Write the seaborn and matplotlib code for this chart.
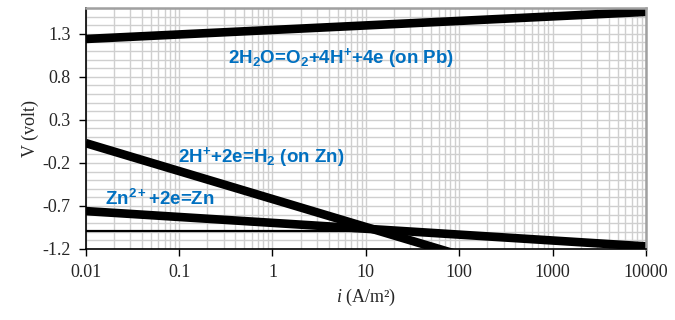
import numpy as np
import pandas as pd
import seaborn as sns
import matplotlib.pyplot as plt
from matplotlib.ticker import LogLocator, MultipleLocator, FixedLocator, NullFormatter

# current density (A/m2) and potential (V) at line ends
i_o2 = [0.01, 10000]
v_o2 = [1.24, 1.555]
i_h2 = [0.01, 100]
v_h2 = [0.03, -1.27]
i_zn = [0.01, 10000]
v_zn = [-0.76, -1.17]
i_eq = [0.01, 11]
v_eq = [-0.99, -0.99]

y_ticks = [-1.2, -0.7, -0.2, 0.3, 0.8, 1.3]
x_ticks = [0.01, 0.1, 1, 10, 100, 1000, 10000]
x_labels = ["0.01", "0.1", "1", "10", "100", "1000", "10000"]

labels = {
    "o2": (0.33, 1.02, r"2H$_{2}$O=O$_{2}$+4H$^{+}$+4e (on Pb)"),
    "h2": (0.098, -0.13, r"2H$^{+}$+2e=H$_{2}$ (on Zn)"),
    "zn": (0.016, -0.62, r"Zn$^{2+}$+2e=Zn"),
}

sns.set_theme(style="whitegrid")
plt.rcParams["font.family"] = ["Liberation Serif", "DejaVu Serif"]
plt.rcParams["mathtext.fontset"] = "custom"
plt.rcParams["mathtext.rm"] = "Liberation Sans:bold"
plt.rcParams["mathtext.it"] = "Liberation Sans:bold"
plt.rcParams["mathtext.bf"] = "Liberation Sans:bold"
plt.rcParams["mathtext.sf"] = "Liberation Serif:italic"

fig = plt.figure(figsize=(6.75, 3.2), dpi=100)
ax = fig.add_axes([0.127, 0.222, 0.83, 0.753])

thick = 6.2
sns.lineplot(data=pd.DataFrame({"i": i_o2, "v": v_o2}), x="i", y="v", ax=ax,
             color="black", lw=thick, estimator=None, solid_capstyle="butt")
sns.lineplot(data=pd.DataFrame({"i": i_h2, "v": v_h2}), x="i", y="v", ax=ax,
             color="black", lw=thick, estimator=None, solid_capstyle="butt")
sns.lineplot(data=pd.DataFrame({"i": i_zn, "v": v_zn}), x="i", y="v", ax=ax,
             color="black", lw=thick, estimator=None, solid_capstyle="butt")
sns.lineplot(data=pd.DataFrame({"i": i_eq, "v": v_eq}), x="i", y="v", ax=ax,
             color="black", lw=1.6, estimator=None, solid_capstyle="butt")

ax.set_xscale("log")
ax.set_xlim(0.01, 10000)
ax.set_ylim(-1.2, 1.6)

ax.xaxis.set_major_locator(FixedLocator(x_ticks))
ax.set_xticklabels(x_labels)
ax.xaxis.set_minor_locator(LogLocator(base=10, subs=np.arange(2, 10)))
ax.xaxis.set_minor_formatter(NullFormatter())
ax.yaxis.set_major_locator(FixedLocator(y_ticks))
ax.set_yticklabels([f"{t:.1f}" for t in y_ticks])
ax.yaxis.set_minor_locator(MultipleLocator(0.1))

ax.grid(which="both", color="#cfcfcf", lw=1.0)
ax.set_axisbelow(True)

ax.tick_params(axis="both", which="major", labelsize=13, direction="out",
               length=5, width=1, color="black", left=True, bottom=True, pad=6)
ax.tick_params(axis="both", which="minor", length=0)

for side in ["left", "bottom"]:
    ax.spines[side].set_color("black")
    ax.spines[side].set_linewidth(1.2)
for side in ["top", "right"]:
    ax.spines[side].set_color("#a0a0a0")
    ax.spines[side].set_linewidth(1.8)

ax.set_xlabel(r"$\mathsf{i}$ (A/m²)", fontsize=13)
ax.set_ylabel("V (volt)", fontsize=13, labelpad=2)

for key, (x, y, s) in labels.items():
    ax.text(x, y, s, color="#0070c0", fontsize=13.5, fontweight="bold",
            family="Liberation Sans", ha="left", va="center")

fig.savefig("out.png", dpi=100)
